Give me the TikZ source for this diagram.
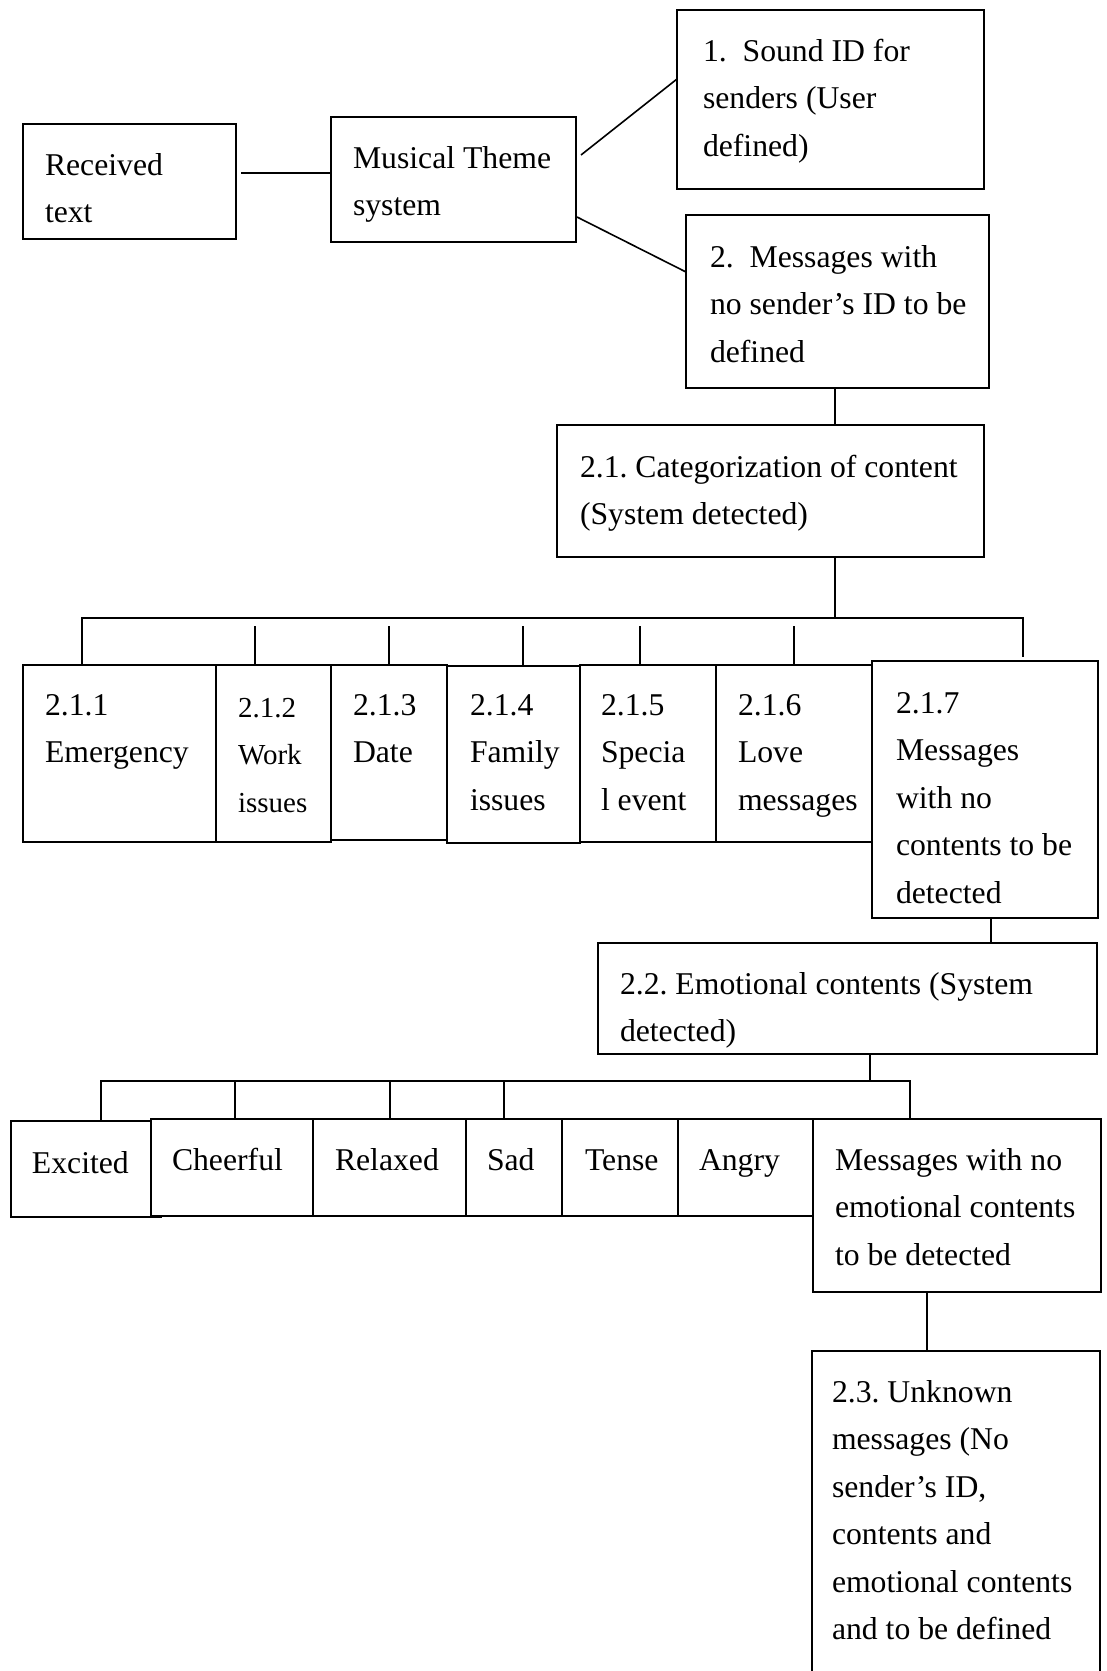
\documentclass[tikz,border=0pt]{standalone}
\usepackage{fontspec}
\setmainfont{Liberation Serif}
\usetikzlibrary{fit,calc}
\frenchspacing
\newcommand\fmain{\fontsize{15.85pt}{23.75pt}\selectfont}
\newcommand\fsmall{\fontsize{14.5pt}{23.75pt}\selectfont}
\tikzset{
  bx/.style={draw=black, line width=1pt, inner sep=0pt, outer sep=0pt, rectangle},
  txt/.style={inner sep=0pt, outer sep=0pt, align=left, anchor=base west, font=\fmain},
  smalltxt/.style={txt, font=\fsmall},
  conn/.style={draw=black, line width=0.8pt}
}
\begin{document}
\begin{tikzpicture}[x=0.5pt,y=-0.5pt]
\useasboundingbox (0,0) rectangle (1107,1671);
\clip (0,0) rectangle (1107,1671);
\fill[white] (0,0) rectangle (1107,1671);

% ---- top level boxes
\node[bx, fit={(23,124) (236,239)}] (recv) {};
\node[bx, fit={(331,117) (576,242)}] (music) {};
\node[bx, fit={(677,10) (984,189)}] (one) {};
\node[bx, fit={(686,215) (989,388)}] (two) {};
\node[bx, fit={(557,425) (984,557)}] (c21) {};

% ---- content categories
\node[bx, fit={(23,665) (216,842)}] (e1) {};
\node[bx, fit={(216,665) (331,842)}] (e2) {};
\node[bx, fit={(331,665) (447,840)}] (e3) {};
\node[bx, fit={(447,666) (580,843)}] (e4) {};
\node[bx, fit={(580,665) (716,842)}] (e5) {};
\node[bx, fit={(716,665) (872,842)}] (e6) {};
\node[bx, fit={(872,661) (1098,918)}] (e7) {};

\node[bx, fit={(598,943) (1097,1054)}] (c22) {};

% ---- emotions
\node[bx, fit={(11,1121) (151,1217)}] (m1) {};
\node[bx, fit={(151,1119) (313,1216)}] (m2) {};
\node[bx, fit={(313,1119) (466,1216)}] (m3) {};
\node[bx, fit={(466,1119) (562,1216)}] (m4) {};
\node[bx, fit={(562,1119) (678,1216)}] (m5) {};
\node[bx, fit={(678,1119) (813,1216)}] (m6) {};
\node[bx, fit={(813,1119) (1101,1292)}] (m7) {};
\draw[line width=1pt] (m1.south east) -- ++(11,0);

\node[bx, fit={(812,1351) (1100,1720)}] (c23) {};

% ---- texts (anchored at the baseline of the last line)
\node[txt] (recv-t) at (45,222.5) {Received\\text};
\node[txt] (music-t) at (353,215.5) {Musical Theme\\system};
\node[txt] (one-t) at (703,156) {1.\hspace{0.5em}Sound ID for\\senders (User\\defined)};
\node[txt] (two-t) at (710,362) {2.\hspace{0.5em}Messages with\\no sender’s ID to be\\defined};
\node[txt] (c21-t) at (580,524.5) {2.1. Categorization of content\\(System detected)};

\node[txt] (e1-t) at (45,762.5) {2.1.1\\Emergency};
\node[smalltxt] (e2-t) at (238,812) {2.1.2\\Work\\issues};
\node[txt] (e3-t) at (353,762.5) {2.1.3\\Date};
\node[txt] (e4-t) at (470,810) {2.1.4\\Family\\issues};
\node[txt] (e5-t) at (601,810) {2.1.5\\Specia\\l event};
\node[txt] (e6-t) at (738,810) {2.1.6\\Love\\messages};
\node[txt] (e7-t) at (896,903) {2.1.7\\Messages\\with no\\contents to be\\detected};

\node[txt] (c22-t) at (620,1041.5) {2.2. Emotional contents (System\\detected)};

\node[txt] (m1-t) at (32,1173) {Excited};
\node[txt] (m2-t) at (172,1170) {Cheerful};
\node[txt] (m3-t) at (335,1170) {Relaxed};
\node[txt] (m4-t) at (487,1170) {Sad};
\node[txt] (m5-t) at (585,1170) {Tense};
\node[txt] (m6-t) at (699,1170) {Angry};
\node[txt] (m7-t) at (835,1265) {Messages with no\\emotional contents\\to be detected};

\node[txt] (c23-t) at (832,1639.5) {2.3. Unknown\\messages (No\\sender’s ID,\\contents and\\emotional contents\\and to be defined};

% ---- connectors
\draw[conn] (241,173) -- (331,173 -| music.west);
\draw[conn] (581,155) -- (677,79 -| one.west);
\draw[conn] (577,217) -- (686,272 -| two.west);
\draw[conn] (835,0 |- two.south) -- (835,0 |- c21.north);

% bus 1
\coordinate (b1l) at (82,618);
\coordinate (b1r) at (1023,618);
\draw[conn] (835,0 |- c21.south) -- (835,618);
\draw[conn] (82,0 |- e1.north) -- (b1l) -- (b1r) -- (1023,657);
\draw[conn] (255,626) -- (255,0 |- e2.north);
\draw[conn] (389,626) -- (389,0 |- e3.north);
\draw[conn] (523,626) -- (523,0 |- e4.north);
\draw[conn] (640,626) -- (640,0 |- e5.north);
\draw[conn] (794,626) -- (794,0 |- e6.north);

\draw[conn] (991,0 |- e7.south) -- (991,0 |- c22.north);

% bus 2
\coordinate (b2l) at (101,1081);
\coordinate (b2r) at (910,1081);
\draw[conn] (870,0 |- c22.south) -- (870,1081);
\draw[conn] (101,0 |- m1.north) -- (b2l) -- (b2r) -- (910,0 |- m7.north);
\draw[conn] (235,1081) -- (235,0 |- m2.north);
\draw[conn] (390,1081) -- (390,0 |- m3.north);
\draw[conn] (504,1081) -- (504,0 |- m4.north);

\draw[conn] (927,0 |- m7.south) -- (927,0 |- c23.north);
\end{tikzpicture}
\end{document}
